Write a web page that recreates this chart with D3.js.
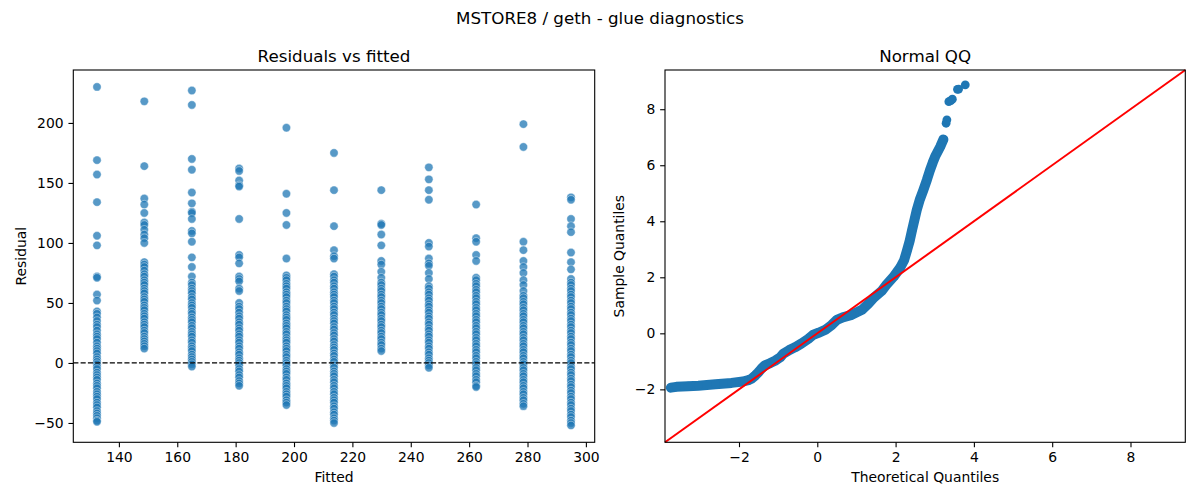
<!DOCTYPE html>
<html>
<head>
<meta charset="utf-8">
<script src="https://cdn.jsdelivr.net/npm/d3@7"></script>
<style>
  body { margin: 0; background: #fff; }
  svg { display: block; font-family: 'DejaVu Sans', sans-serif; }
</style>
</head>
<body>
<svg id="chart" width="1200" height="500"></svg>
<script>
// fitted levels (x of each column) and residuals
const fitted = [132.5, 148.7, 165.0, 181.2, 197.4, 213.7, 229.9, 246.2, 262.4, 278.6, 294.9]

const res132 = [230, 169, 157, 134, 106, 98, 72, 71, 57, 52, 43, 41, 38, 35, 32, 30, 27, 24, 22, 20, 17, 14, 12, 10, 8, 5, 3, 1, -1, -3, -5, -8, -10, -12, -14, -17, -19, -21, -24, -26, -28, -30, -33, -35, -37, -40, -42, -44, -46, -48, -49]
const res149 = [218, 164, 137, 132, 125, 117, 115, 111, 107, 104, 100, 84, 82, 80, 77, 74, 72, 69, 67, 65, 62, 60, 58, 55, 53, 51, 48, 46, 44, 41, 39, 37, 34, 32, 30, 27, 25, 22, 20, 18, 16, 14, 12]
const res165 = [227, 215, 170, 161, 142, 133, 126, 125, 120, 110, 108, 101, 88, 80, 72, 67, 65, 62, 60, 58, 55, 53, 50, 48, 46, 43, 41, 38, 36, 34, 31, 29, 26, 24, 22, 19, 17, 14, 12, 10, 7, 5, 3, 1, -1, -3]
const res181 = [162, 160, 152, 148, 147, 120, 90, 88, 83, 72, 70, 68, 62, 60, 50, 47, 45, 42, 39, 37, 34, 32, 29, 27, 24, 22, 19, 17, 14, 12, 9, 7, 4, 2, 0, -2, -5, -7, -10, -12, -15, -17, -19]
const res197 = [196, 141, 125, 115, 87, 73, 71, 69, 66, 64, 62, 59, 57, 55, 52, 50, 47, 45, 43, 40, 38, 36, 33, 31, 29, 26, 24, 21, 19, 17, 14, 12, 10, 7, 5, 2, 0, -2, -5, -7, -9, -12, -14, -17, -19, -21, -24, -26, -28, -31, -33, -35]
const res214 = [175, 144, 114, 94, 89, 87, 74, 72, 69, 67, 64, 62, 59, 57, 55, 52, 50, 47, 45, 42, 40, 37, 35, 33, 30, 28, 25, 23, 20, 18, 15, 13, 11, 8, 6, 3, 1, -2, -4, -7, -9, -11, -14, -16, -19, -21, -24, -26, -29, -31, -33, -36, -38, -41, -43, -46, -48, -50]
const res230 = [144, 116, 115, 107, 98, 85, 82, 76, 71, 67, 65, 62, 60, 57, 55, 52, 50, 47, 45, 42, 40, 37, 35, 32, 30, 27, 25, 22, 20, 17, 15, 12, 10]
const res246 = [163, 153, 144, 136, 100, 97, 87, 83, 81, 75, 70, 64, 62, 59, 57, 54, 52, 49, 47, 44, 42, 39, 37, 34, 32, 29, 27, 24, 22, 19, 17, 14, 12, 9, 7, 4, 2, 0, -2, -4]
const res262 = [132, 104, 101, 90, 85, 71, 69, 66, 64, 61, 59, 56, 54, 51, 49, 46, 44, 41, 39, 36, 34, 31, 29, 26, 24, 21, 19, 16, 14, 11, 9, 6, 4, 1, -1, -4, -6, -9, -11, -14, -16, -19, -20]
const res279 = [199, 180, 101, 94, 85, 80, 75, 69, 65, 60, 56, 54, 51, 49, 46, 44, 41, 39, 36, 34, 31, 29, 26, 24, 21, 19, 16, 14, 11, 9, 6, 4, 1, -1, -4, -6, -9, -11, -14, -16, -19, -21, -24, -26, -29, -31, -34, -36]
const res295 = [138, 136, 120, 114, 109, 92, 84, 78, 70, 67, 65, 62, 60, 57, 55, 52, 50, 47, 45, 42, 40, 37, 35, 32, 30, 27, 25, 22, 20, 17, 15, 12, 10, 7, 5, 2, 0, -3, -5, -8, -10, -13, -15, -18, -20, -23, -25, -28, -30, -33, -35, -38, -40, -43, -45, -48, -50, -52]
const residualColumns = [res132, res149, res165, res181, res197, res214, res230, res246, res262, res279, res295]

// normal QQ: dense band and the loose points at the top
const qqTheoretical = [-3.74, -3.60, -3.30, -3.04, -2.60, -2.19, -1.90, -1.76, -1.68, -1.58, -1.51, -1.42, -1.34, -1.20, -1.08, -0.95, -0.87, -0.72, -0.57, -0.40, -0.23, -0.10, 0.03, 0.20, 0.37, 0.50, 0.65, 0.88, 1.14, 1.30, 1.45, 1.65, 1.78, 1.95, 2.12, 2.22, 2.29, 2.36, 2.42, 2.54, 2.62, 2.71, 2.80, 2.88, 2.95, 3.01, 3.08, 3.14, 3.22]
const qqSample = [-1.94, -1.91, -1.89, -1.87, -1.82, -1.77, -1.72, -1.67, -1.62, -1.50, -1.40, -1.25, -1.14, -1.06, -0.98, -0.86, -0.73, -0.60, -0.50, -0.36, -0.20, -0.05, 0.02, 0.12, 0.30, 0.48, 0.57, 0.66, 0.84, 1.05, 1.28, 1.52, 1.76, 2.02, 2.35, 2.62, 2.95, 3.30, 3.68, 4.40, 4.78, 5.12, 5.48, 5.83, 6.10, 6.31, 6.50, 6.66, 6.92]
const qqTailTheoretical = [3.29, 3.31, 3.36, 3.41, 3.45, 3.58, 3.61, 3.78]
const qqTailSample = [7.50, 7.62, 8.27, 8.31, 8.36, 8.71, 8.72, 8.87]

const fittedTicks = [140, 160, 180, 200, 220, 240, 260, 280, 300]
const residualTicks = [-50, 0, 50, 100, 150, 200]
const qqTicks = [-2, 0, 2, 4, 6, 8]
const qqLimits = [-3.89, 9.40]

const blue = '#1f77b4'
const tickLen = 4.86
const svg = d3.select('#chart')

const leftBox = { x0: 73.3, x1: 594.7, y0: 70, y1: 442.3 }
const rightBox = { x0: 665, x1: 1185.3, y0: 70, y1: 442.3 }

const padded = ([lo, hi]) => [lo - (hi - lo) * 0.05, hi + (hi - lo) * 0.05]

svg.append('text')
  .attr('x', 600)
  .attr('y', 24)
  .attr('text-anchor', 'middle')
  .style('font-size', '16.7px')
  .text('MSTORE8 / geth - glue diagnostics')

function drawAxes (box, x, y, xTicks, yTicks, title, xLabel, yLabel, yLabelX) {
  const gx = svg.append('g')
    .attr('transform', `translate(0,${box.y1})`)
    .call(d3.axisBottom(x).tickValues(xTicks).tickFormat(d3.format('d')).tickSize(tickLen).tickPadding(tickLen))
  const gy = svg.append('g')
    .attr('transform', `translate(${box.x0},0)`)
    .call(d3.axisLeft(y).tickValues(yTicks).tickFormat(d3.format('d')).tickSize(tickLen).tickPadding(tickLen))

  ;[gx, gy].forEach(g => {
    g.select('.domain').remove()
    g.attr('font-family', null).attr('font-size', null)
    g.selectAll('.tick line').attr('stroke', '#000').attr('stroke-width', 1.1)
    g.selectAll('.tick text').style('font-size', '13.9px').attr('fill', '#000')
  })

  svg.append('rect')
    .attr('x', box.x0)
    .attr('y', box.y0)
    .attr('width', box.x1 - box.x0)
    .attr('height', box.y1 - box.y0)
    .attr('fill', 'none')
    .attr('stroke', '#000')
    .attr('stroke-width', 1.1)

  svg.append('text')
    .attr('x', (box.x0 + box.x1) / 2)
    .attr('y', 61.7)
    .attr('text-anchor', 'middle')
    .style('font-size', '16.7px')
    .text(title)

  svg.append('text')
    .attr('x', (box.x0 + box.x1) / 2)
    .attr('y', 481.5)
    .attr('text-anchor', 'middle')
    .style('font-size', '13.9px')
    .text(xLabel)

  svg.append('text')
    .attr('transform', `translate(${yLabelX},${(box.y0 + box.y1) / 2}) rotate(-90)`)
    .attr('text-anchor', 'middle')
    .style('font-size', '13.9px')
    .text(yLabel)
}

// residuals vs fitted
const points = residualColumns.flatMap((col, i) => col.map(r => ({ fitted: fitted[i], residual: r })))

const xLeft = d3.scaleLinear()
  .domain(padded(d3.extent(points, d => d.fitted)))
  .range([leftBox.x0, leftBox.x1])
const yLeft = d3.scaleLinear()
  .domain(padded(d3.extent(points, d => d.residual)))
  .range([leftBox.y1, leftBox.y0])

svg.append('g')
  .selectAll('circle')
  .data(points)
  .enter()
  .append('circle')
  .attr('cx', d => xLeft(d.fitted))
  .attr('cy', d => yLeft(d.residual))
  .attr('r', 4.2)
  .attr('fill', blue)
  .attr('fill-opacity', 0.75)
  .attr('stroke', '#fff')
  .attr('stroke-width', 0.6)
  .attr('stroke-opacity', 0.7)

svg.append('line')
  .attr('x1', leftBox.x0)
  .attr('x2', leftBox.x1)
  .attr('y1', yLeft(0))
  .attr('y2', yLeft(0))
  .attr('stroke', '#000')
  .attr('stroke-width', 1.3)
  .attr('stroke-dasharray', '5.1,2.2')

drawAxes(leftBox, xLeft, yLeft, fittedTicks, residualTicks, 'Residuals vs fitted', 'Fitted', 'Residual', 25.5)

// normal QQ
const xRight = d3.scaleLinear().domain(qqLimits).range([rightBox.x0, rightBox.x1])
const yRight = d3.scaleLinear().domain(qqLimits).range([rightBox.y1, rightBox.y0])

const band = qqTheoretical.map((t, i) => [t, qqSample[i]])
const tail = qqTailTheoretical.map((t, i) => [t, qqTailSample[i]])

const qqLine = d3.line()
  .x(d => xRight(d[0]))
  .y(d => yRight(d[1]))

svg.append('path')
  .datum(band)
  .attr('d', qqLine)
  .attr('fill', 'none')
  .attr('stroke', blue)
  .attr('stroke-width', 10)
  .attr('stroke-linejoin', 'round')
  .attr('stroke-linecap', 'round')

svg.append('g')
  .selectAll('circle')
  .data(band.concat(tail))
  .enter()
  .append('circle')
  .attr('cx', d => xRight(d[0]))
  .attr('cy', d => yRight(d[1]))
  .attr('r', 4.4)
  .attr('fill', blue)

svg.append('path')
  .datum(qqLimits.map(v => [v, v]))
  .attr('d', qqLine)
  .attr('fill', 'none')
  .attr('stroke', 'red')
  .attr('stroke-width', 2)

drawAxes(rightBox, xRight, yRight, qqTicks, qqTicks, 'Normal QQ', 'Theoretical Quantiles', 'Sample Quantiles', 624)
</script>
</body>
</html>
